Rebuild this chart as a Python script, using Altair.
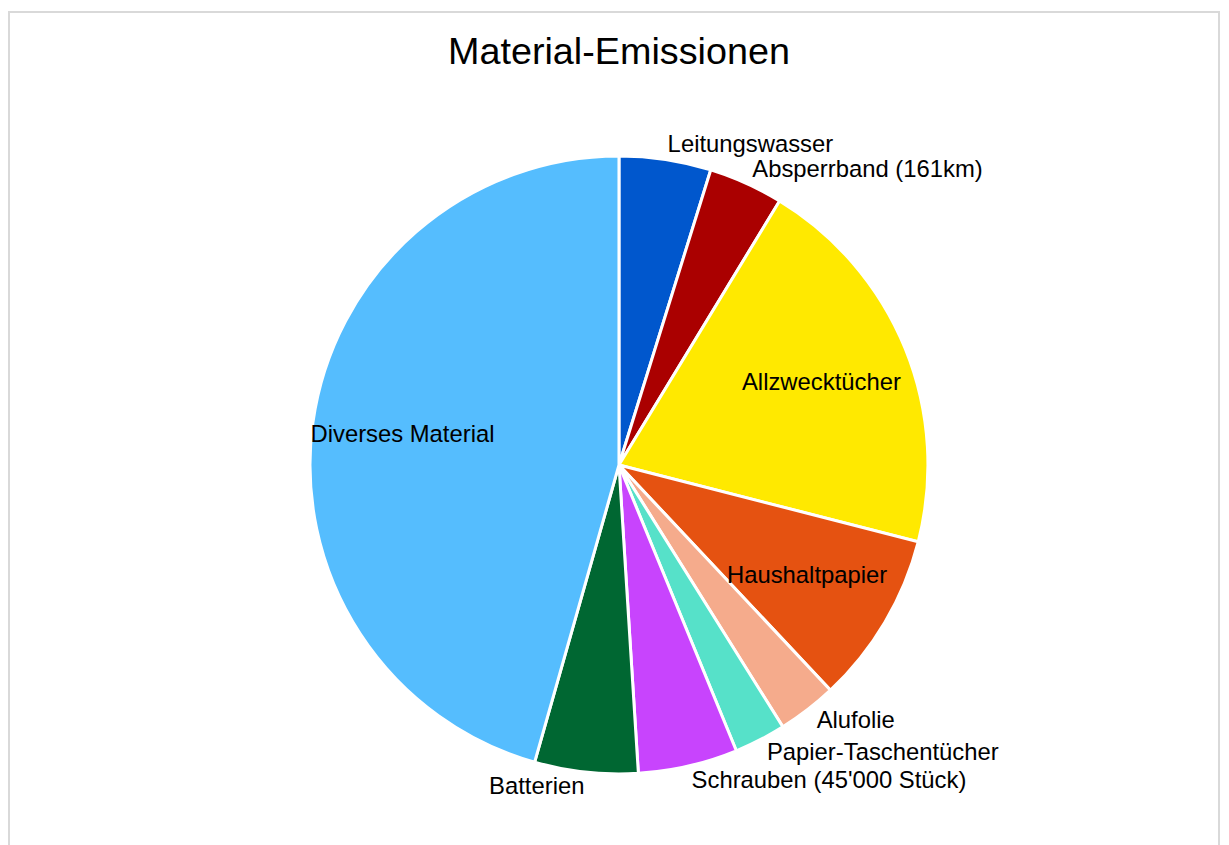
import altair as alt
import pandas as pd

# ---- data -------------------------------------------------------------
categories = [
    "Leitungswasser",
    "Absperrband (161km)",
    "Allzwecktücher",
    "Haushaltpapier",
    "Alufolie",
    "Papier-Taschentücher",
    "Schrauben (45'000 Stück)",
    "Batterien",
    "Diverses Material",
]
shares = [4.8, 3.9, 20.3, 9.0, 3.1, 2.7, 5.2, 5.4, 45.6]
colors = [
    "#0057CD", "#AA0000", "#FFE900", "#E55211", "#F5AB8C",
    "#56E1C9", "#C844FD", "#006732", "#55BDFE",
]
title_text = "Material-Emissionen"

total = sum(shares)
df = pd.DataFrame({"category": categories, "share": shares,
                   "idx": list(range(len(categories)))})

# ---- layout constants --------------------------------------------------
CX, CY, R = 614, 456, 311
FONT = "Liberation Sans"

theta_scale = alt.Scale(domain=[0, total])
color_scale = alt.Scale(domain=categories, range=colors)

base = (
    alt.Chart(df)
    .transform_window(cum="sum(share)", sort=[alt.SortField("idx", order="ascending")],
                      frame=[None, 0])
    .transform_calculate(start="datum.cum - datum.share",
                         mid="datum.cum - datum.share / 2")
)

arcs = base.mark_arc(outerRadius=R, stroke="white", strokeWidth=3).encode(
    theta=alt.Theta("start:Q", scale=theta_scale, stack=None),
    theta2="cum:Q",
    color=alt.Color("category:N", scale=color_scale, legend=None),
    order=alt.Order("idx:Q"),
    x=alt.value(CX),
    y=alt.value(CY),
)

def labels(filter_expr, radius, align):
    return base.transform_filter(filter_expr).mark_text(
        radius=radius, align=align, baseline="middle",
        fontSize=24, font=FONT, color="black",
    ).encode(
        theta=alt.Theta("mid:Q", scale=theta_scale, stack=None),
        text="category:N",
        x=alt.value(CX),
        y=alt.value(CY),
    )

inside = labels("datum.share >= 8", 220, "center")
out_right = labels(f"datum.share < 8 && datum.mid < {total / 2}", 326, "left")
out_left = labels(f"datum.share < 8 && datum.mid >= {total / 2}", 326, "right")

title = alt.Chart(pd.DataFrame({"t": [title_text]})).mark_text(
    fontSize=38, font=FONT, color="black", align="center", baseline="middle"
).encode(text="t:N", x=alt.value(614), y=alt.value(41))

chart = (
    alt.layer(arcs, inside, out_right, out_left, title)
    .properties(width=1218, height=900,
                autosize=alt.AutoSizeParams(type="none"),
                padding={"left": 1, "top": 1, "right": 2, "bottom": 0})
    .configure(font=FONT)
    .configure_view(stroke="#d9d9d9", strokeWidth=2)
)

chart.save("out.html", embed_options={"renderer": "svg", "actions": False})
